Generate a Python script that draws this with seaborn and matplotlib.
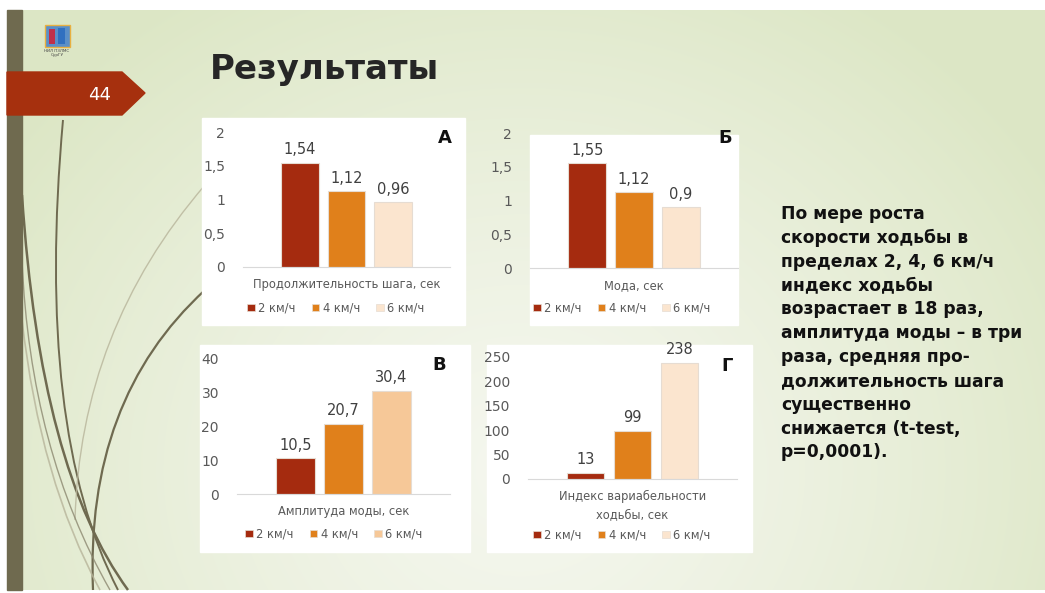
import numpy as np
import pandas as pd
import matplotlib
matplotlib.use("Agg")
import matplotlib.pyplot as plt
import seaborn as sns
from matplotlib.patches import Rectangle, Polygon, Patch
from matplotlib.path import Path
from matplotlib.patches import PathPatch

# ---------------- data ----------------
speeds = ["2 км/ч", "4 км/ч", "6 км/ч"]
step_duration = [1.54, 1.12, 0.96]
mode_values = [1.55, 1.12, 0.9]
mode_amplitude = [10.5, 20.7, 30.4]
variability_index = [13, 99, 238]

labels_metric = ["Продолжительность шага, сек", "Мода, сек",
                 "Амплитуда моды, сек", "Индекс вариабельности\nходьбы, сек"]
panel_letters = ["А", "Б", "В", "Г"]
y_max = [2, 2, 40, 250]
y_ticks = [[0, 0.5, 1, 1.5, 2], [0, 0.5, 1, 1.5, 2],
           [0, 10, 20, 30, 40], [0, 50, 100, 150, 200, 250]]
value_labels = [["1,54", "1,12", "0,96"], ["1,55", "1,12", "0,9"],
                ["10,5", "20,7", "30,4"], ["13", "99", "238"]]

title = "Результаты"
slide_number = "44"
side_text = ("По мере роста\nскорости ходьбы в\nпределах 2, 4, 6 км/ч\nиндекс ходьбы\n"
             "возрастает в 18 раз,\nамплитуда моды – в три\nраза, средняя про-\n"
             "должительность шага\nсущественно\nснижается (t-test,\nр=0,0001).")

# ---------------- figure ----------------
W, H = 1045, 593
sns.set_theme(style="white")
plt.rcParams["font.family"] = ["DejaVu Sans"]
fig = plt.figure(figsize=(W / 100, H / 100), dpi=100)
fig.patch.set_facecolor("white")

bg = fig.add_axes([0, 0, 1, 1], zorder=-10)
bg.set_xlim(0, W)
bg.set_ylim(H, 0)
bg.axis("off")

# gradient background of the slide
sx0, sx1, sy0, sy1 = 7, W, 10, 590
yy, xx = np.mgrid[sy0:sy1, sx0:sx1]
d = np.sqrt(((xx - 520) / 1.0) ** 2 + ((yy - 470) / 0.9) ** 2)
t = np.clip(d / 620, 0, 1) ** 1.3
light = np.array([0.96, 0.968, 0.935])
green = np.array([0.865, 0.905, 0.775])
img = light[None, None, :] * (1 - t[..., None]) + green[None, None, :] * t[..., None]
bg.imshow(img, extent=(sx0, sx1, sy1, sy0), aspect="auto", zorder=0, interpolation="bilinear")

# decorative curves
def curve(p0, p1, p2, color, lw, alpha=1.0):
    path = Path([p0, p1, p2], [Path.MOVETO, Path.CURVE3, Path.CURVE3])
    bg.add_patch(PathPatch(path, fc="none", ec=color, lw=lw, alpha=alpha, zorder=1))

curve((22, 195), (40, 470), (128, 590), "#6f6a50", 1.8)
curve((63, 120), (35, 430), (118, 590), "#6f6a50", 1.4)
curve((205, 290), (85, 400), (93, 590), "#6f6a50", 1.6)
curve((205, 185), (80, 330), (75, 520), "#b7b49a", 1.0, 0.8)
curve((22, 320), (40, 480), (100, 590), "#b7b49a", 1.2, 0.8)
curve((22, 260), (30, 450), (110, 590), "#8c8870", 1.0, 0.8)

# left dark bar
bg.add_patch(Rectangle((7, 10), 15, 580, color="#6f6a4f", zorder=2))
# red arrow with slide number
bg.add_patch(Polygon([(7, 72), (122, 72), (145, 93), (122, 115), (7, 115)],
                     closed=True, color="#a6300e", zorder=3))
bg.text(100, 95, slide_number, color="white", fontsize=13, ha="center", va="center", zorder=4)
# logo
bg.add_patch(Rectangle((45, 25), 25, 22, fc="#5a8fc8", ec="#e8b040", lw=1, zorder=3))
bg.add_patch(Rectangle((49, 29), 6, 15, fc="#c0304a", ec="none", zorder=4))
bg.add_patch(Rectangle((58, 28), 7, 16, fc="#3070c0", ec="none", zorder=4))
bg.text(57, 53, "НИЛ ПЗЛМС\nСурГУ", fontsize=3, ha="center", va="center", color="#444", zorder=4)
# title
bg.text(210, 70, title, fontsize=24.5, fontweight="bold", color="#262626",
        ha="left", va="center", zorder=4)
# side text
bg.text(781, 205, side_text, fontsize=12.3, fontweight="bold", color="#111111",
        ha="left", va="top", linespacing=1.415, zorder=4)

# white panels
panels = [(202, 118, 465, 325), (530, 135, 738, 325), (200, 345, 470, 552), (487, 345, 752, 552)]
for (x0, y0, x1, y1) in panels:
    bg.add_patch(Rectangle((x0, y0), x1 - x0, y1 - y0, color="white", zorder=2))

# axes geometry (pixels): x0, x1, y baseline, y top(max)
geoms = [(243, 450, 267, 132), (530, 738, 268, 133), (237, 450, 494, 358), (528, 737, 479, 357)]
letter_pos = [(445, 138), (725, 138), (439, 365), (727, 366)]
legend_pos = [(336, 308), (622, 308), (334, 534), (622, 535)]
palettes = [["#a52b0f", "#e0801b", "#fbe5cf"], ["#a52b0f", "#e0801b", "#fbe5cf"],
            ["#a52b0f", "#e0801b", "#f6c898"], ["#a52b0f", "#e0801b", "#fbe5cf"]]
all_values = [step_duration, mode_values, mode_amplitude, variability_index]

for i in range(4):
    x0, x1, yb, yt = geoms[i]
    ax = fig.add_axes([x0 / W, 1 - yb / H, (x1 - x0) / W, (yb - yt) / H])
    ax.patch.set_alpha(0)
    df = pd.DataFrame({"metric": [labels_metric[i]] * 3, "speed": speeds, "value": all_values[i]})
    sns.barplot(data=df, x="metric", y="value", hue="speed", hue_order=speeds,
                palette=palettes[i], saturation=1, width=0.675, gap=0.2, ax=ax, legend=False,
                edgecolor="#e6dcd2", linewidth=0.8)
    ax.set_xlim(-0.5, 0.5)
    ax.set_ylim(0, y_max[i])
    ax.set_yticks(y_ticks[i])
    ax.set_yticklabels([str(v).replace(".", ",") for v in y_ticks[i]])
    ax.set_xlabel("")
    ax.set_ylabel("")
    for s in ["top", "right", "left"]:
        ax.spines[s].set_visible(False)
    ax.spines["bottom"].set_color("#d9d9d9")
    ax.spines["bottom"].set_linewidth(0.8)
    ax.tick_params(axis="y", length=0, pad=13, labelsize=10, labelcolor="#595959")
    ax.tick_params(axis="x", length=0, pad=8, labelsize=8.3, labelcolor="#595959")
    for tl in ax.get_xticklabels():
        tl.set_linespacing(1.5)
    for c, lab in zip(ax.containers, value_labels[i]):
        ax.bar_label(c, labels=[lab], padding=4, fontsize=10.5, color="#404040")
    ax.grid(False)
    # panel letter
    bg.text(letter_pos[i][0], letter_pos[i][1], panel_letters[i], fontsize=13, fontweight="bold",
            color="#111111", ha="center", va="center", zorder=5)
    handles = [Patch(facecolor=palettes[i][k], edgecolor="#e6dcd2", lw=0.5) for k in range(3)]
    fig.legend(handles, speeds, loc="center",
               bbox_to_anchor=(legend_pos[i][0] / W, 1 - legend_pos[i][1] / H),
               ncol=3, frameon=False, fontsize=8.3, labelcolor="#595959",
               handlelength=0.65, handleheight=0.65, handletextpad=0.3, columnspacing=1.4)

fig.savefig("out.png", dpi=100, facecolor="white")
